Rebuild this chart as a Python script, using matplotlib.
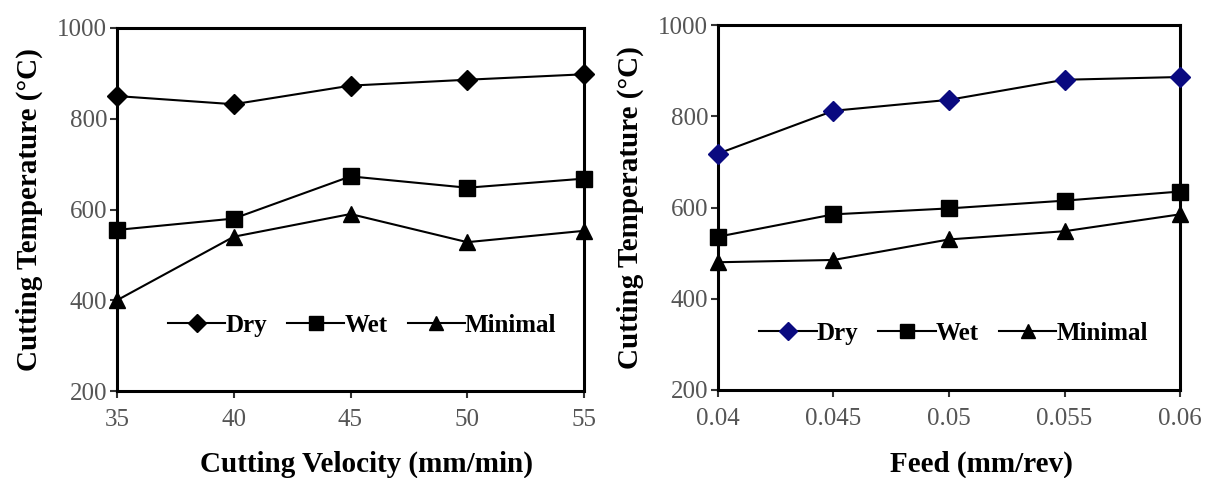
import matplotlib
matplotlib.use("Agg")
import matplotlib.pyplot as plt

plt.rcParams['font.family'] = ['Liberation Serif', 'DejaVu Serif']

velocity = [35, 40, 45, 50, 55]
vel_dry = [850, 832, 873, 886, 898]
vel_wet = [555, 580, 673, 648, 668]
vel_min = [400, 540, 590, 528, 553]

feed = [0.04, 0.045, 0.05, 0.055, 0.06]
feed_labels = ["0.04", "0.045", "0.05", "0.055", "0.06"]
feed_dry = [718, 812, 836, 880, 886]
feed_wet = [536, 585, 598, 615, 635]
feed_min = [480, 485, 530, 548, 585]

yticks = [200, 400, 600, 800, 1000]
series_names = ["Dry", "Wet", "Minimal"]

W, H = 1215, 478
fig = plt.figure(figsize=(W / 100, H / 100), dpi=100)

def box(l, r, t, b):
    return [l / W, 1 - b / H, (r - l) / W, (b - t) / H]

ax1 = fig.add_axes(box(117, 584, 28, 391))
ax2 = fig.add_axes(box(718, 1180, 25, 390))

def style(ax, x, xlabels, xlabel, ys, dry_color, leg_anchor, xlabel_x):
    lw = 1.5
    ax.plot(x, ys[0], '-', color='black', lw=lw, marker='D', ms=10,
            mfc=dry_color, mec=dry_color, label=series_names[0], clip_on=False, zorder=3)
    ax.plot(x, ys[1], '-', color='black', lw=lw, marker='s', ms=11,
            mfc='black', mec='black', label=series_names[1], clip_on=False, zorder=3)
    ax.plot(x, ys[2], '-', color='black', lw=lw, marker='^', ms=11,
            mfc='black', mec='black', label=series_names[2], clip_on=False, zorder=3)
    ax.set_xlim(x[0], x[-1])
    ax.set_ylim(200, 1000)
    ax.set_xticks(x)
    ax.set_xticklabels(xlabels)
    ax.set_yticks(yticks)
    ax.set_yticklabels([str(v) for v in yticks])
    for s in ax.spines.values():
        s.set_linewidth(2.2)
    ax.tick_params(axis='both', direction='out', length=5, width=1.5,
                   labelsize=18, colors='#333333', labelcolor='#555555')
    ax.tick_params(axis='x', pad=8)
    ax.tick_params(axis='y', pad=2)
    ax.set_xlabel(xlabel, fontsize=21, fontweight='bold', labelpad=14)
    ax.xaxis.set_label_coords(xlabel_x, -0.165)
    ax.set_ylabel("Cutting Temperature (°C)", fontsize=21, fontweight='bold', labelpad=10)
    ax.legend(loc='center', bbox_to_anchor=leg_anchor, ncol=3, frameon=False,
              prop={'weight': 'bold', 'size': 18}, handlelength=2.3,
              handletextpad=0.0, columnspacing=0.8, markerscale=0.9)

style(ax1, velocity, [str(v) for v in velocity], "Cutting Velocity (mm/min)",
      [vel_dry, vel_wet, vel_min], 'black', (0.525, 0.18), 0.534)
style(ax2, feed, feed_labels, "Feed (mm/rev)",
      [feed_dry, feed_wet, feed_min], '#0a0a80', (0.51, 0.155), 0.57)

fig.savefig("out.png", dpi=100)
